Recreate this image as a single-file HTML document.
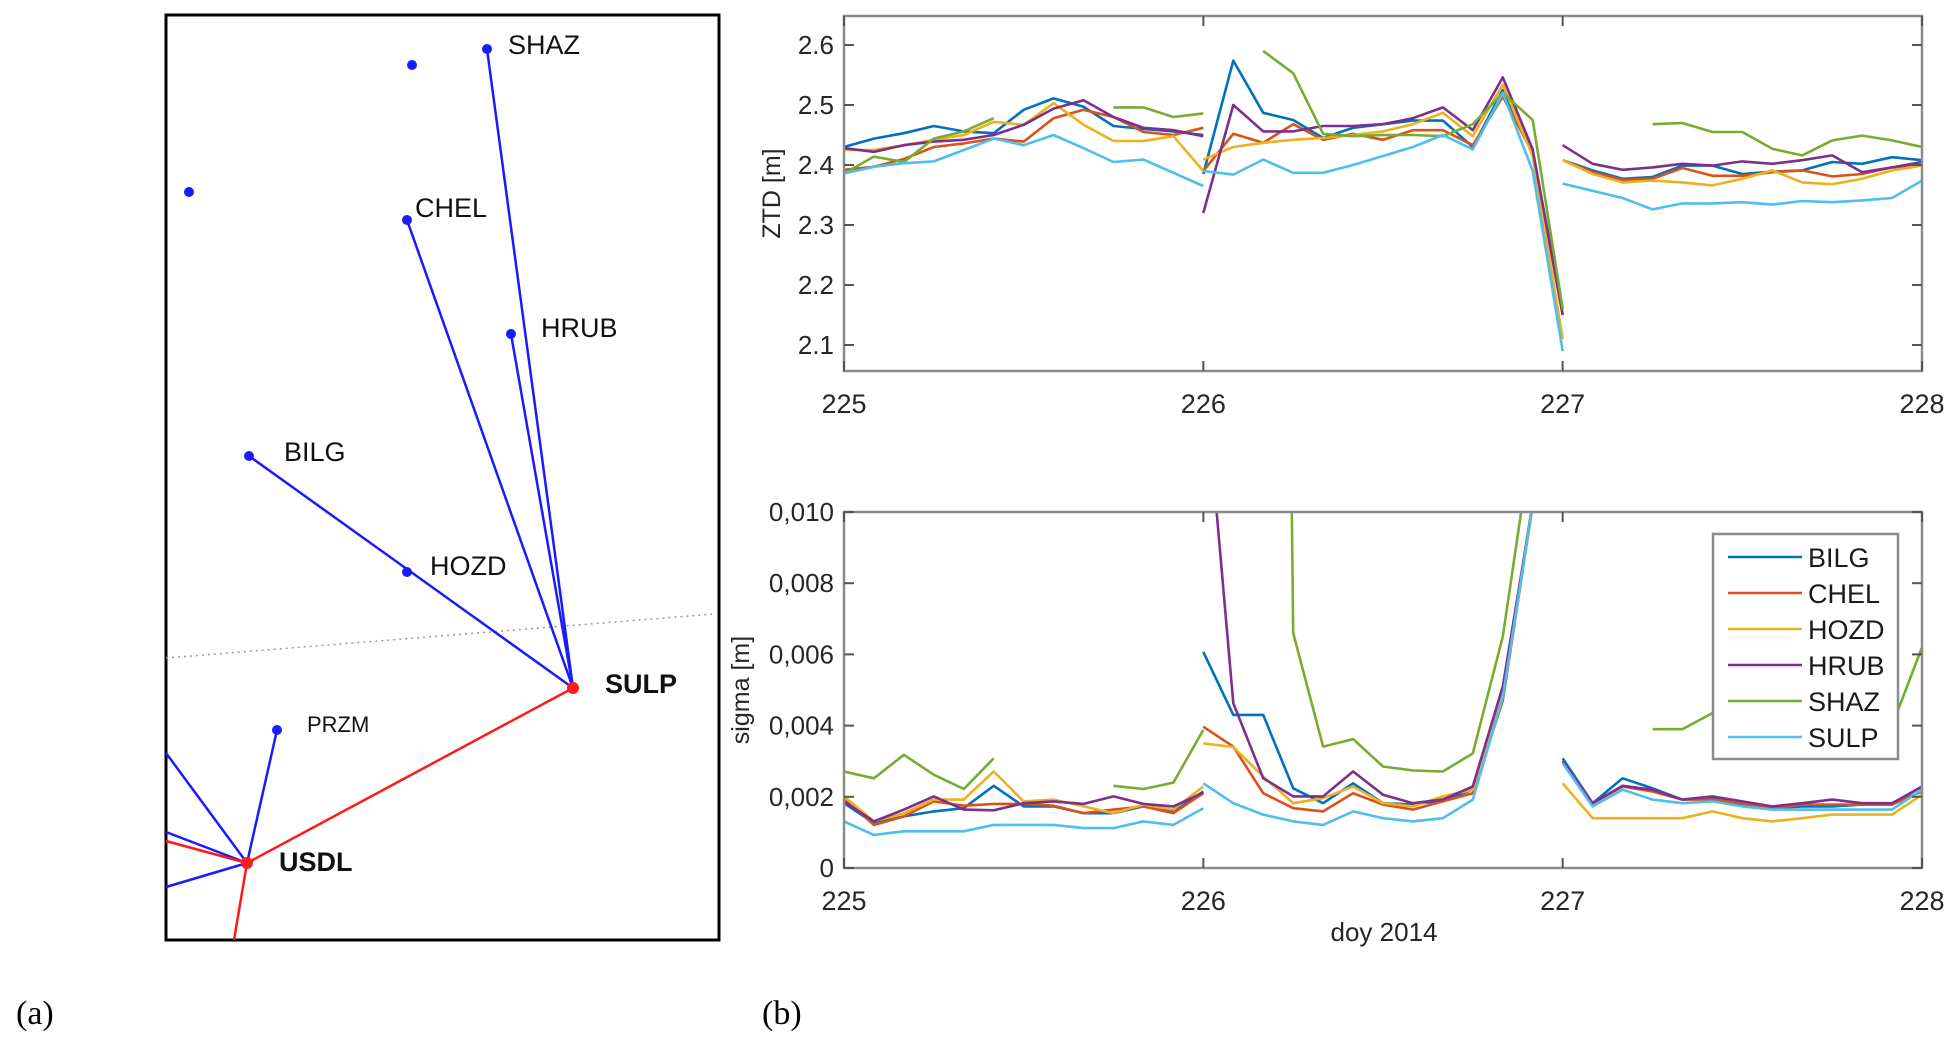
<!DOCTYPE html>
<html><head><meta charset="utf-8"><style>
html,body{margin:0;padding:0;background:#fff;}
svg{display:block;font-family:"Liberation Sans",sans-serif;}
</style></head><body>
<svg id="fig" width="1953" height="1038" viewBox="0 0 1953 1038" xmlns="http://www.w3.org/2000/svg">
<defs>
<clipPath id="clipTop"><rect x="844" y="16" width="1078" height="355"/></clipPath>
<clipPath id="clipBot"><rect x="844" y="512" width="1078" height="356"/></clipPath>
</defs>
<g>
<rect x="166" y="15" width="553" height="925" fill="#fff" stroke="#000" stroke-width="3"/>
<line x1="166" y1="658" x2="714" y2="614" stroke="#999" stroke-width="1.5" stroke-dasharray="2,4"/>
<g stroke="#1a1aff" stroke-width="2.5" fill="none">
<line x1="487" y1="49" x2="573" y2="688"/>
<line x1="407" y1="220" x2="573" y2="688"/>
<line x1="511" y1="334" x2="573" y2="688"/>
<line x1="249" y1="456" x2="573" y2="688"/>
<line x1="277" y1="730" x2="247" y2="863"/>
<line x1="166" y1="753" x2="247" y2="863"/>
<line x1="166" y1="832" x2="247" y2="863"/>
<line x1="166" y1="887" x2="247" y2="863"/>
</g>
<g stroke="#ff1a1a" stroke-width="2.5" fill="none">
<line x1="573" y1="688" x2="247" y2="863"/>
<line x1="166" y1="841" x2="247" y2="863"/>
<line x1="247" y1="863" x2="234" y2="940"/>
</g>
<g fill="#1a1aff">
<circle cx="412" cy="65" r="5"/><circle cx="487" cy="49" r="5"/><circle cx="189" cy="192" r="5"/>
<circle cx="407" cy="220" r="5"/><circle cx="511" cy="334" r="5"/><circle cx="249" cy="456" r="5"/>
<circle cx="407" cy="572" r="5"/><circle cx="277" cy="730" r="5"/>
</g>
<circle cx="573" cy="688" r="6" fill="#ff1a1a"/>
<circle cx="247" cy="863" r="6" fill="#ff1a1a"/>
<g font-size="27" fill="#111">
<text x="508" y="54">SHAZ</text>
<text x="415" y="217">CHEL</text>
<text x="541" y="337">HRUB</text>
<text x="284" y="461">BILG</text>
<text x="430" y="575">HOZD</text>
<text x="605" y="693" font-weight="bold">SULP</text>
<text x="307" y="732" font-size="22">PRZM</text>
<text x="279" y="871" font-weight="bold">USDL</text>
</g>
</g>
<text x="16" y="1024" font-family="Liberation Serif,serif" font-size="34">(a)</text>
<text x="762" y="1024" font-family="Liberation Serif,serif" font-size="34">(b)</text>
<g id="plots"></g>
</svg>
<script>
const days = [225,226,227,228];
const ztdTicks = [2.1,2.2,2.3,2.4,2.5,2.6];
const sigTicks = [0,0.002,0.004,0.006,0.008,0.010];
const sigTickLabels = ["0","0,002","0,004","0,006","0,008","0,010"];
const names = ["BILG","CHEL","HOZD","HRUB","SHAZ","SULP"];
const colors = ["#0072BD","#D95319","#EDB120","#7E2F8E","#77AC30","#4DBEEE"];
const N = null;
const ztdBILG = [2.43,2.444,2.453,2.465,2.456,2.453,2.492,2.511,2.497,2.465,2.46,2.456,2.45, 2.385,2.574,2.487,2.475,2.445,2.462,2.468,2.474,2.474,2.43,2.525,2.42,2.16, 2.408,2.391,2.377,2.38,2.399,2.399,2.385,2.389,2.391,2.405,2.402,2.413,2.408];
const ztdCHEL = [2.392,2.397,2.41,2.43,2.436,2.444,2.439,2.478,2.492,2.48,2.455,2.45,2.462, 2.39,2.452,2.437,2.468,2.442,2.452,2.442,2.458,2.458,2.433,2.514,2.42,2.15, 2.408,2.388,2.375,2.377,2.395,2.382,2.382,2.388,2.391,2.381,2.385,2.396,2.399];
const ztdHOZD = [2.425,2.425,2.433,2.442,2.45,2.472,2.467,2.503,2.467,2.44,2.44,2.448,2.39, 2.409,2.43,2.437,2.442,2.445,2.45,2.456,2.468,2.487,2.448,2.534,2.415,2.11, 2.408,2.385,2.371,2.374,2.371,2.366,2.377,2.391,2.371,2.368,2.377,2.391,2.399];
const ztdHRUB = [2.428,2.422,2.433,2.439,2.442,2.45,2.467,2.494,2.508,2.48,2.462,2.458,2.448, 2.32,2.5,2.456,2.456,2.465,2.465,2.468,2.478,2.496,2.458,2.546,2.426,2.15, 2.433,2.402,2.392,2.396,2.402,2.399,2.406,2.402,2.408,2.416,2.388,2.396,2.405];
const ztdSHAZ = [2.386,2.414,2.405,2.444,2.456,2.478,N,N,N,2.496,2.496,2.48,2.486, N,N,2.59,2.553,2.452,2.448,2.45,2.45,2.448,2.468,2.52,2.475,2.16, N,N,N,2.468,2.47,2.455,2.455,2.427,2.416,2.441,2.449,2.441,2.43];
const ztdSULP = [2.386,2.397,2.403,2.406,2.425,2.444,2.433,2.45,2.428,2.405,2.409,2.387,2.365, 2.39,2.384,2.409,2.387,2.387,2.4,2.415,2.43,2.45,2.426,2.52,2.39,2.09, 2.369,2.357,2.345,2.326,2.336,2.336,2.338,2.334,2.34,2.338,2.341,2.345,2.374];
const sigBILG = [0.00182,0.00126,0.00145,0.00159,0.00168,0.00231,0.00173,0.00173,0.00154,0.00154,0.00173,0.00159,0.00215, 0.00607,0.0043,0.0043,0.00224,0.00182,0.00238,0.00182,0.00178,0.0019,0.0022,0.0049,0.0102,0.03, 0.00308,0.00182,0.00252,0.00224,0.00192,0.00196,0.00178,0.00168,0.00173,0.00173,0.00178,0.00178,0.00229];
const sigCHEL = [0.00196,0.00121,0.00145,0.00187,0.00175,0.0018,0.0018,0.00175,0.00154,0.00164,0.00173,0.00154,0.0021, 0.00397,0.00341,0.0021,0.00168,0.00159,0.0021,0.00178,0.00164,0.00187,0.0021,0.0047,0.0102,0.03, 0.003,0.00182,0.00229,0.00215,0.00192,0.00192,0.00182,0.00168,0.00178,0.00178,0.00178,0.00178,0.00215];
const sigHOZD = [0.00201,0.00131,0.00154,0.00192,0.00192,0.00271,0.00187,0.00192,0.00173,0.00154,0.00178,0.00164,0.00229, 0.0035,0.0034,0.00257,0.00182,0.00196,0.00229,0.00182,0.00173,0.00201,0.0022,0.0049,0.0103,0.03, 0.00238,0.0014,0.0014,0.0014,0.0014,0.00159,0.0014,0.00131,0.0014,0.0015,0.0015,0.0015,0.00206];
const sigHRUB = [0.00187,0.00131,0.00164,0.00201,0.00164,0.00162,0.00182,0.00187,0.0018,0.00201,0.0018,0.00173,0.00212, 0.0143,0.00463,0.00252,0.00201,0.00201,0.00271,0.00206,0.00182,0.00192,0.00229,0.0051,0.0102,0.03, 0.003,0.00182,0.00231,0.0022,0.00192,0.00201,0.00187,0.00173,0.00182,0.00192,0.00182,0.00182,0.00229];
const sigSHAZ = [0.00271,0.00252,0.00318,0.00262,0.00222,0.00308,N,N,N,0.00231,0.00222,0.0024,0.00388, N,N,0.08,0.0066,0.00341,0.00362,0.00285,0.00274,0.00271,0.00322,0.0065,0.0122,0.05, N,N,N,0.0039,0.0039,0.00435,0.0045,0.005,0.005,0.0048,0.0045,0.004,0.0062];
const sigSULP = [0.00131,0.00093,0.00103,0.00103,0.00103,0.00121,0.00121,0.00121,0.00112,0.00112,0.00131,0.00121,0.00168, 0.00238,0.00182,0.0015,0.00131,0.00121,0.00159,0.0014,0.00131,0.0014,0.00192,0.0048,0.0102,0.03, 0.00294,0.00173,0.0022,0.00192,0.00182,0.00187,0.00173,0.00164,0.00164,0.00164,0.00164,0.00164,0.0022];

const ztdSeries = [ztdBILG,ztdCHEL,ztdHOZD,ztdHRUB,ztdSHAZ,ztdSULP];
const sigSeries = [sigBILG,sigCHEL,sigHOZD,sigHRUB,sigSHAZ,sigSULP];

const NS = "http://www.w3.org/2000/svg";
const root = document.getElementById('plots');
function mk(tag, attrs, parent){ const e=document.createElementNS(NS,tag); for(const k in attrs) e.setAttribute(k,attrs[k]); (parent||root).appendChild(e); return e; }

const X0=844, X1=1922;
function xs(d){ return X0+(d-225)/(228-225)*(X1-X0); }
function dayOf(k){ if(k<=12) return 225+k/12; if(k<=25) return 226+(k-13)/12; return 227+(k-26)/12; }

function drawAxes(top,bottom,yScale,ticks,labels,clipId,series,name,yTitle,yTitleX){
  const g=mk('g',{});
  
  
  const lg=mk('g',{'clip-path':'url(#'+clipId+')'},g);
  
  
  series.forEach((s,si)=>{
    let seg=[];
    const flush=()=>{ if(seg.length>1){ const p=mk('polyline',{points:seg.join(' '),fill:'none',stroke:colors[si],'stroke-width':2.6,'stroke-linejoin':'round'},lg);
      
       } seg=[]; };
    for(let k=0;k<s.length;k++){
      if(k===13||k===26) flush();
      if(s[k]===null){ flush(); continue; }
      seg.push(xs(dayOf(k)).toFixed(1)+','+yScale(s[k]).toFixed(1));
    }
    flush();
  });
  const fr=mk('rect',{x:X0,y:top,width:X1-X0,height:bottom-top,fill:'none',stroke:'#8c8c8c','stroke-width':2.5},g);
  
  
  ticks.forEach((t,i)=>{
    const y=yScale(t);
    mk('line',{x1:X0,y1:y,x2:X0+10,y2:y,stroke:'#555','stroke-width':2},g);
    mk('line',{x1:X1,y1:y,x2:X1-10,y2:y,stroke:'#555','stroke-width':2},g);
    const tx=mk('text',{x:X0-10,y:y+9,'text-anchor':'end','font-size':26,fill:'#262626'},g);
    tx.textContent=labels[i];
    
    
  });
  days.forEach(d=>{
    const x=xs(d);
    mk('line',{x1:x,y1:bottom,x2:x,y2:bottom-10,stroke:'#555','stroke-width':2},g);
    mk('line',{x1:x,y1:top,x2:x,y2:top+10,stroke:'#555','stroke-width':2},g);
    const tx=mk('text',{x:x,y:bottom+42,'text-anchor':'middle','font-size':27,fill:'#262626'},g);
    tx.textContent=String(d);
    
    
  });
  const yc=(top+bottom)/2;
  const yt=mk('text',{x:yTitleX,y:yc,'text-anchor':'middle','font-size':25,fill:'#262626',transform:'rotate(-90 '+yTitleX+' '+yc+')'},g);
  yt.textContent=yTitle;
  
  
}

const yZ = v => 45 + (2.6-v)*600;
drawAxes(16,371,yZ,ztdTicks,ztdTicks.map(t=>t.toFixed(1)),'clipTop',ztdSeries,'ztd','ZTD [m]',780);
const yS = v => 868 - v/0.010*356;
drawAxes(512,868,yS,sigTicks,sigTickLabels,'clipBot',sigSeries,'sigma','sigma [m]',749);

const xl=mk('text',{x:1384,y:941,'text-anchor':'middle','font-size':26,fill:'#262626'});
xl.textContent='doy 2014';



const lg=mk('g',{});


mk('rect',{x:1713,y:534,width:185,height:225,fill:'#fff',stroke:'#8c8c8c','stroke-width':2.5},lg);
names.forEach((n,i)=>{
  const y=557+i*36;
  const ln=mk('line',{x1:1728,y1:y,x2:1802,y2:y,stroke:colors[i],'stroke-width':2.6},lg);
  
  
  const t=mk('text',{x:1808,y:y+10,'font-size':27,fill:'#1a1a1a'},lg);
  t.textContent=n;
  
  
});
</script>
</body></html>
